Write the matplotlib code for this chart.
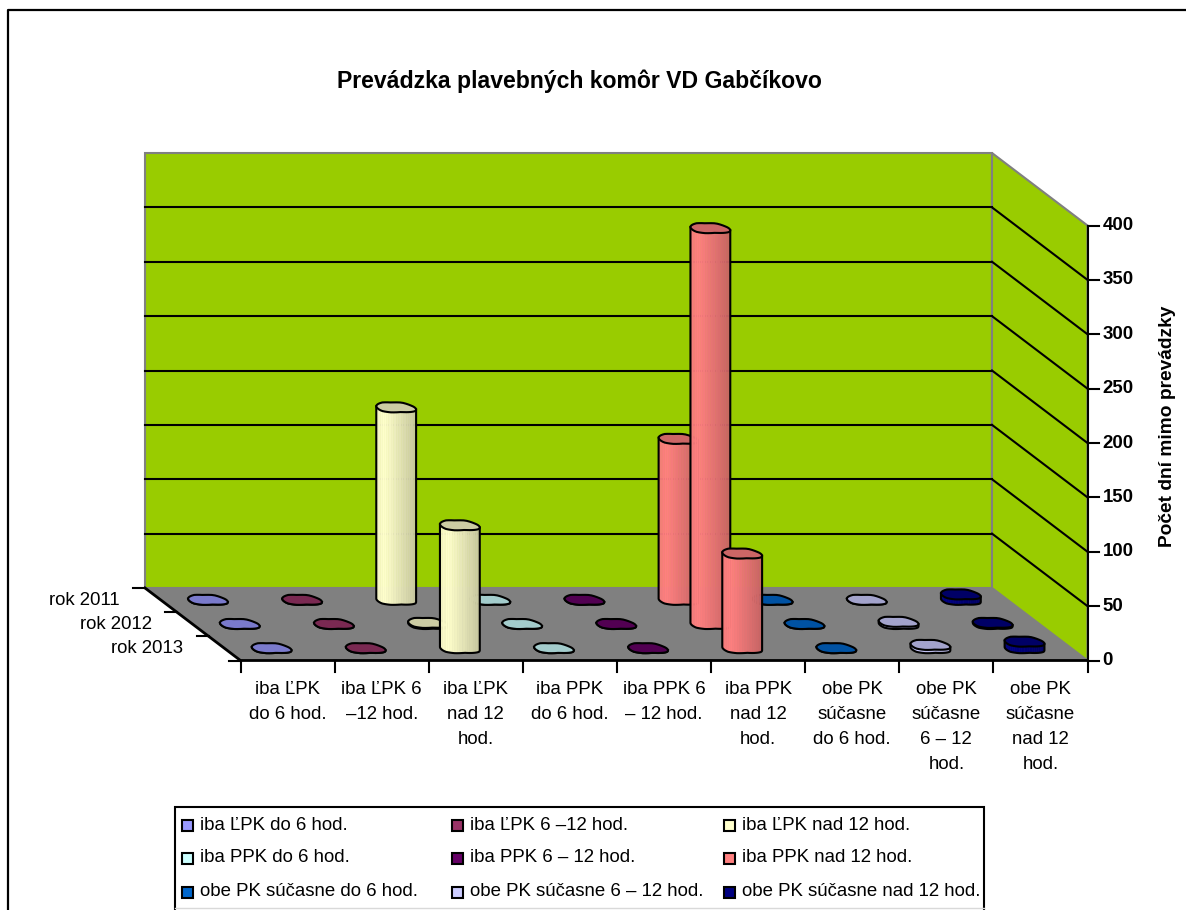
'''
Excel style 3D cylinder chart, drawn on a flat axes with a small oblique projection.
'''
import matplotlib
matplotlib.use('Agg')
import matplotlib.pyplot as plt
import numpy as np
from matplotlib.patches import Polygon, Rectangle

plt.rcParams['font.family'] = ['Liberation Sans', 'DejaVu Sans']

# data
years = ['rok 2011', 'rok 2012', 'rok 2013']
category_labels = ['iba ĽPK\ndo 6 hod.', 'iba ĽPK 6\n–12 hod.', 'iba ĽPK\nnad 12\nhod.',
                   'iba PPK\ndo 6 hod.', 'iba PPK 6\n– 12 hod.', 'iba PPK\nnad 12\nhod.',
                   'obe PK\nsúčasne\ndo 6 hod.', 'obe PK\nsúčasne\n6 – 12\nhod.', 'obe PK\nsúčasne\nnad 12\nhod.']
series_names = ['iba ĽPK do 6 hod.', 'iba ĽPK 6 –12 hod.', 'iba ĽPK nad 12 hod.',
                'iba PPK do 6 hod.', 'iba PPK 6 – 12 hod.', 'iba PPK nad 12 hod.',
                'obe PK súčasne do 6 hod.', 'obe PK súčasne 6 – 12 hod.', 'obe PK súčasne nad 12 hod.']
series_colors = ['#9999FF', '#993366', '#FFFFCC', '#CCFFFF', '#660066', '#FF8080', '#0066CC', '#CCCCFF', '#000080']

values_2011 = [0, 0, 177, 0, 0, 148, 0, 0, 5]
values_2012 = [0, 0, 1, 0, 0, 364, 0, 2, 1]
values_2013 = [0, 0, 113, 0, 0, 87, 0, 3, 6]
y_ticks = [0, 50, 100, 150, 200, 250, 300, 350, 400]

# layout of the 3D box, in picture pixels
BACK_LEFT, BACK_RIGHT, BACK_FLOOR, BACK_TOP = 145, 992, 588, 153
DEPTH_DX, DEPTH_DY = 95.5, 72.5
WALL = '#99CC00'
GREY = '#808080'
RX, RY = 19.3, 4.9
SHEAR = 1.0
FONT = 13.4
# small bumps on the cylinder outline, Excel draws them rather rough
BUMP_T = np.linspace(0, 2 * np.pi, 13)
BUMP_Y = [0.6, 0.9, 0.2, -0.5, 0.5, 0.9, 0.0, -0.4, -0.9, -0.2, -0.8, 0.2, 0.6]


def project(cat, depth, value=0):
    '''cat in categories, depth in 0..1 from back to front, value in days'''
    x = BACK_LEFT + (BACK_RIGHT - BACK_LEFT) * cat / len(category_labels) + DEPTH_DX * depth
    y = BACK_FLOOR + DEPTH_DY * depth - (BACK_FLOOR - BACK_TOP) * value / y_ticks[-1]
    return x, y


def shade(color, f):
    return tuple(min(1, c * f) for c in matplotlib.colors.to_rgb(color))


def ring(cx, cy, t):
    x = cx + RX * np.cos(t) + SHEAR * RY * np.sin(t)
    y = cy + RY * np.sin(t) + np.interp(np.mod(t, 2 * np.pi), BUMP_T, BUMP_Y)
    return x, y


def cylinder(ax, cat, depth, value, color, z):
    cx, cy = project(cat + 0.5, depth)
    h = cy - project(cat + 0.5, depth, value)[1]
    t0 = np.arctan(SHEAR * RY / RX)
    t = np.linspace(t0, t0 + np.pi, 25)
    bx, by = ring(cx, cy, t)
    # strips from the right (dark) to the left (light)
    left, right = bx.min(), bx.max()
    for i in range(len(t) - 1):
        pos = ((bx[i] + bx[i + 1]) / 2 - left) / (right - left)
        f = 0.96 + pos * 0.2 if pos < 0.2 else 1.0 - (pos - 0.2) * 0.28
        pts = [(bx[i], by[i]), (bx[i + 1], by[i + 1]), (bx[i + 1], by[i + 1] - h), (bx[i], by[i] - h)]
        ax.add_patch(Polygon(pts, closed=True, facecolor=shade(color, f), edgecolor=shade(color, f),
                             linewidth=0.4, zorder=z))
    ax.plot(np.r_[bx[0], bx, bx[-1]], np.r_[by[0] - h, by, by[-1] - h], color='black', lw=1.5, zorder=z + 0.1)
    tt = np.linspace(0, 2 * np.pi, 40)
    tx, ty = ring(cx, cy - h, tt)
    ax.add_patch(Polygon(np.c_[tx, ty], closed=True, facecolor=shade(color, 0.8), edgecolor='black',
                         linewidth=1.5, zorder=z + 0.2))


fig = plt.figure(figsize=(11.86, 9.10), dpi=100, facecolor='white')
ax = fig.add_axes([0, 0, 1, 1])
ax.set_xlim(0, 1186)
ax.set_ylim(910, 0)
ax.axis('off')

# chart frame, only the left and top edges are in the picture
ax.plot([8, 8, 1186], [910, 10, 10], color='black', lw=1.6, zorder=1)

ax.text(579.5, 81, 'Prevádzka plavebných komôr VD Gabčíkovo', ha='center', va='center',
        fontsize=16.6, fontweight='bold')

n_cat = len(category_labels)
# walls and floor
corners = [project(0, 0), project(n_cat, 0), project(n_cat, 1), project(0, 1)]
ax.add_patch(Polygon(corners, closed=True, facecolor=GREY, edgecolor='none', zorder=2))
ax.add_patch(Rectangle((BACK_LEFT, BACK_TOP), BACK_RIGHT - BACK_LEFT, BACK_FLOOR - BACK_TOP,
                       facecolor=WALL, edgecolor=GREY, linewidth=1.5, zorder=2))
side = [project(n_cat, 0, 0), project(n_cat, 0, y_ticks[-1]), project(n_cat, 1, y_ticks[-1]), project(n_cat, 1, 0)]
ax.add_patch(Polygon(side, closed=True, facecolor=WALL, edgecolor=GREY, linewidth=1.5, zorder=2))

for v in y_ticks[1:-1]:
    x0, y0 = project(0, 0, v)
    x1, y1 = project(n_cat, 0, v)
    x2, y2 = project(n_cat, 1, v)
    ax.plot([x0, x1], [y0, y1], color='black', lw=1.5, zorder=3)
    ax.plot([x1, x2], [y1, y2], color='black', lw=1.5, zorder=3)

# floor edges, ticks and labels
ax.plot(*zip(project(0, 0), project(0, 1), project(n_cat, 1)), color='black', lw=2, zorder=3)
for v in y_ticks:
    x, y = project(n_cat, 1, v)
    ax.plot([x, x + 11], [y, y], color='black', lw=1.5, zorder=3)
    ax.text(x + 15, y, str(v), ha='left', va='center', fontsize=FONT, fontweight='bold')
x_top, y_top = project(n_cat, 1, y_ticks[-1])
x_bot, y_bot = project(n_cat, 1, 0)
ax.plot([x_top, x_bot], [y_top, y_bot], color='black', lw=1.5, zorder=3)

for i in range(n_cat + 1):
    x, y = project(i, 1)
    ax.plot([x, x], [y, y + 11], color='black', lw=1.5, zorder=3)
for i, label in enumerate(category_labels):
    x, y = project(i + 0.5, 1)
    ax.text(x, y + 20, label, ha='center', va='top', fontsize=FONT, linespacing=1.62)

for i, year in enumerate(years + ['']):
    x, y = project(0, i / 3)
    ax.plot([x - 12, x], [y, y], color='black', lw=1.5, zorder=3)
for i, year in enumerate(years):
    x, y = project(0, (i + 0.5) / 3)
    ax.text(x - 41, y, year, ha='right', va='center', fontsize=FONT)

ax.text(1167, 426, 'Počet dní mimo prevádzky', rotation=90, ha='center', va='center',
        fontsize=13.8, fontweight='bold')

# cylinders, back row first so the front ones cover them
rows = [values_2011, values_2012, values_2013]
z = 4
for r, row in enumerate(rows):
    for c, val in enumerate(row):
        cylinder(ax, c, (r + 0.5) / 3, val, series_colors[c], z)
        z += 1

# legend, its lower edge runs off the picture
ax.add_patch(Rectangle((175, 807), 809, 110, facecolor='white', edgecolor='black', linewidth=1.5, zorder=z))
ax.plot([175, 984], [908, 908], color='#D9D9D9', lw=1, zorder=z + 1)
legend_x = [182, 452, 724]
legend_y = [825, 858, 892]
for i, name in enumerate(series_names):
    x, y = legend_x[i % 3], legend_y[i // 3]
    ax.add_patch(Rectangle((x, y - 5.5), 11, 11, facecolor=series_colors[i], edgecolor='black', linewidth=1.5, zorder=z + 1))
    ax.text(x + 18, y, name, ha='left', va='center', fontsize=FONT, zorder=z + 1)

fig.savefig('out.png', dpi=100)
